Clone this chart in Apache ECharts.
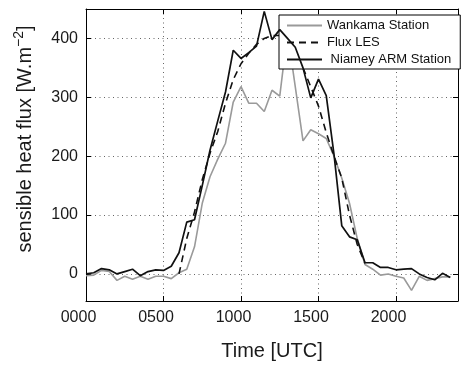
<!DOCTYPE html>
<html>
<head>
<meta charset="utf-8">
<script src="https://cdn.jsdelivr.net/npm/echarts@6/dist/echarts.min.js"></script>
<style>
  html, body { margin: 0; padding: 0; background: #fff; }
  #chart { width: 461px; height: 366px; }
</style>
</head>
<body>
<div id="chart"></div>
<script>
// Time of day in hours (UTC), 30-minute steps
const hours = [0, 0.5, 1, 1.5, 2, 2.5, 3, 3.5, 4, 4.5, 5, 5.5, 6, 6.5, 7, 7.5, 8, 8.5, 9, 9.5,
  10, 10.5, 11, 11.5, 12, 12.5, 13, 13.5, 14, 14.5, 15, 15.5, 16, 16.5, 17, 17.5, 18, 18.5, 19, 19.5,
  20, 20.5, 21, 21.5, 22, 22.5, 23, 23.5];

const wankama = [-3, -2, 6, 4, -11, -4, -9, -4, -9, -4, -4, -8, 2, 8, 46, 120, 165, 195, 222, 292,
  318, 290, 290, 276, 312, 302, 410, 318, 226, 245, 238, 230, 200, 163, 120, 60, 16, 8, -2, 0,
  -4, -7, -28, -4, -11, -8, -5, -5];

const fluxLES = [null, null, null, null, null, null, null, null, null, null, null, null,
  0, 60, 105, 160, 205, 242, 290, 330, 357, 375, 390, 400, 405, 405, 400, 385, 350, 318, 285, 240,
  200, 163, 100, 50, 18, null, null, null, null, null, null, null, null, null, null, null];

const niamey = [0, 2, 9, 7, 0, 4, 8, -3, 4, 7, 6, 13, 36, 88, 92, 150, 210, 260, 309, 380,
  366, 376, 387, 446, 398, 415, 400, 385, 350, 299, 331, 303, 203, 82, 63, 58, 19, 19, 11, 11,
  7, 8, 9, 0, -6, -10, 1, -6];

const seriesNames = ['Wankama Station', 'Flux LES', ' Niamey ARM Station'];
const xTickLabels = {0: '0000', 5: '0500', 10: '1000', 15: '1500', 20: '2000'};
const yTickValues = [0, 100, 200, 300, 400];

function pairs(vals) {
  return hours.map((h, i) => [h, vals[i]]).filter(p => p[1] !== null);
}

const FONT = 'Liberation Sans, Arial, Helvetica, sans-serif';
const chart = echarts.init(document.getElementById('chart'), null, {renderer: 'canvas'});

const gridLine = {show: true, showMinLine: false, showMaxLine: false,
  lineStyle: {type: [1, 3.5], color: '#666', width: 1}};
const axisLine = {show: true, onZero: false, lineStyle: {color: '#000', width: 1}};
const tick = {show: true, inside: true, length: 5, lineStyle: {color: '#000', width: 1}};

const option = {
  animation: false,
  backgroundColor: '#fff',
  grid: {left: 86, right: 2, top: 9, bottom: 61, containLabel: false},
  xAxis: [{
    type: 'value', min: 0, max: 24, interval: 5,
    axisLine: axisLine, axisTick: tick, splitLine: gridLine,
    axisLabel: {
      formatter: v => (xTickLabels[v] !== undefined ? xTickLabels[v] : ''),
      color: '#1a1a1a', fontSize: 16, fontFamily: FONT, margin: 9, padding: [0, 15, 0, 0],
      showMinLabel: true, showMaxLabel: true
    },
    name: 'Time [UTC]', nameLocation: 'middle', nameGap: 40,
    nameTextStyle: {fontSize: 20, color: '#1a1a1a', fontFamily: FONT}
  }, {
    type: 'value', position: 'top', min: 0, max: 24, interval: 5,
    axisLine: axisLine, axisTick: tick, splitLine: {show: false}, axisLabel: {show: false}
  }],
  yAxis: [{
    type: 'value', min: -46, max: 450, splitNumber: 5,
    axisLine: axisLine, axisTick: tick, splitLine: gridLine,
    axisLabel: {
      formatter: v => (yTickValues.indexOf(v) >= 0 ? String(v) : ''),
      color: '#1a1a1a', fontSize: 16, fontFamily: FONT, margin: 8
    }
  }, {
    type: 'value', position: 'right', min: -46, max: 450, splitNumber: 5,
    axisLine: axisLine, axisTick: tick, splitLine: {show: false}, axisLabel: {show: false}
  }],
  legend: {
    orient: 'vertical', left: 279, top: 15,
    data: seriesNames,
    itemWidth: 35, itemHeight: 13, itemGap: 4,
    padding: [4, 9, 3, 7],
    borderColor: '#000', borderWidth: 1, backgroundColor: '#fff',
    itemStyle: {color: 'rgba(0,0,0,0)', borderWidth: 0, opacity: 0},
    textStyle: {fontSize: 13, color: '#111', fontFamily: FONT}
  },
  series: [
    {name: seriesNames[0], type: 'line', data: pairs(wankama), symbol: 'none',
      lineStyle: {color: '#9a9a9a', width: 1.6}, itemStyle: {color: '#9a9a9a'}, z: 2},
    {name: seriesNames[1], type: 'line', data: pairs(fluxLES), symbol: 'none',
      lineStyle: {color: '#111', width: 1.6, type: [7, 5]}, itemStyle: {color: '#111'}, z: 3},
    {name: seriesNames[2], type: 'line', data: pairs(niamey), symbol: 'none',
      lineStyle: {color: '#111', width: 1.7}, itemStyle: {color: '#111'}, z: 4}
  ],
  graphic: [{
    type: 'text', x: 25, y: 139, rotation: Math.PI / 2,
    style: {
      text: '{a|sensible heat flux [W.m}{b|−2}{a|]}',
      align: 'center', verticalAlign: 'middle', fill: '#1a1a1a',
      rich: {
        a: {fontSize: 20, fontFamily: FONT, fill: '#1a1a1a'},
        b: {fontSize: 14, fontFamily: FONT, fill: '#1a1a1a', padding: [0, 0, 12, 0]}
      }
    }
  }]
};
chart.setOption(option);
</script>
</body>
</html>
